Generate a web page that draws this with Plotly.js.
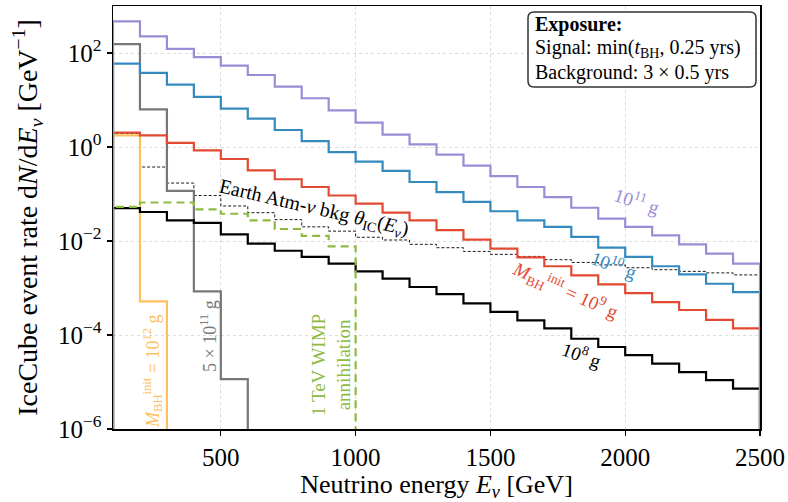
<!DOCTYPE html>
<html>
<head>
<meta charset="utf-8">
<script src="https://cdn.plot.ly/plotly-3.0.1.min.js"></script>
<style>
  html, body { margin: 0; padding: 0; background: #ffffff; }
  #chart { width: 788px; height: 502px; }
</style>
</head>
<body>
<div id="chart"></div>
<script>
// ---- Data ----
const binEdges = [100,200,300,400,500,600,700,800,900,1000,1100,1200,1300,1400,1500,1600,1700,1800,1900,2000,2100,2200,2300,2400,2500];
const xTickVals = [500, 1000, 1500, 2000, 2500];
const xTickText = ["500", "1000", "1500", "2000", "2500"];
const yTickVals = [1e-6, 1e-4, 1e-2, 1, 1e2];
const yTickText = ["10<sup>−6</sup>", "10<sup>−4</sup>", "10<sup>−2</sup>", "10<sup>0</sup>", "10<sup>2</sup>"];

// event rate per 100 GeV bin [GeV^-1]
const rate_1e11g = [472,226,122,82,54,34,19.3,10.9,6.0,3.3,1.84,1.14,0.69,0.40,0.24,0.141,0.086,0.051,0.030,0.020,0.0132,0.0085,0.0054,0.0033];
const rate_1e10g = [59.4,37.6,21.3,11.6,6.56,4.02,2.30,1.34,0.78,0.49,0.31,0.18,0.11,0.068,0.043,0.0275,0.020,0.0122,0.0072,0.0046,0.0029,0.00195,0.00123,0.00082];
const rate_1e9g  = [2.02,1.77,1.22,0.85,0.556,0.319,0.206,0.141,0.093,0.0625,0.040,0.0275,0.017,0.0107,0.0069,0.0045,0.0029,0.00186,0.0012,0.00078,0.0005,0.00034,0.00021,0.000138];
const rate_1e8g  = [0.050,0.0414,0.0275,0.0242,0.0139,0.0088,0.0062,0.0046,0.0033,0.00226,0.00158,0.00105,0.00074,0.00047,0.00031,0.000204,0.000138,0.0000832,0.0000556,0.0000372,0.0000245,0.0000162,0.000011,0.0000072];
const rate_5e11g = [155,6.3,0.116,0.00085,0.0000115];     // zero above 600 GeV
const rate_1e12g = [1.77,0.00052];                         // zero above 300 GeV
const rate_wimp  = [0.053,0.066,0.066,0.047,0.038,0.0275,0.018,0.0129,0.0077]; // zero above 1 TeV
const rate_bkg   = [1.93,0.375,0.171,0.093,0.0556,0.040,0.0285,0.020,0.0162,0.012,0.0105,0.0085,0.0072,0.006,0.0052,0.0047,0.004,0.0035,0.0031,0.0027,0.00245,0.00226,0.0021,0.0019];

// ---- helpers ----
const ZERO = 1e-12; // stands in for an empty bin on the log axis
function stepTrace(vals, color, width, dash) {
  const x = [binEdges[0]], y = [ZERO];
  for (let i = 0; i < vals.length; i++) { x.push(binEdges[i]); y.push(vals[i]); }
  x.push(binEdges[vals.length]); y.push(ZERO);
  return { x: x, y: y, type: 'scatter', mode: 'lines', hoverinfo: 'skip', showlegend: false,
           line: { shape: 'hv', color: color, width: width, dash: dash || 'solid' } };
}

const traces = [
  stepTrace(rate_bkg, '#000000', 0.9, '3px,2px'),
  stepTrace(rate_1e12g, '#FBC15E', 2.2),
  stepTrace(rate_5e11g, '#777777', 2.2),
  stepTrace(rate_1e8g, '#000000', 2.2),
  stepTrace(rate_1e9g, '#E24A33', 2.2),
  stepTrace(rate_1e10g, '#348ABD', 2.2),
  stepTrace(rate_1e11g, '#988ED5', 2.2),
  stepTrace(rate_wimp, '#8EBA42', 2.2, '8px,5px')
];

// plot-area geometry in pixels
const L = 113, R = 760, T = 6, B = 429;
const px = v => (v - L) / (R - L);
const py = v => (B - v) / (B - T);

const FONT = '"Liberation Serif", "Times New Roman", serif';

function ann(text, x, y, color, size, angle, extra) {
  return Object.assign({ text: text, xref: 'paper', yref: 'paper', x: px(x), y: py(y),
    showarrow: false, textangle: angle || 0, font: { family: FONT, size: size, color: color },
    xanchor: 'center', yanchor: 'middle' }, extra || {});
}

const annotations = [
  ann('10<sup>11</sup> g', 637, 200, '#988ED5', 19, 18),
  ann('10<sup>10</sup> g', 614, 264, '#348ABD', 19, 20),
  ann('<i>M</i><sub>BH</sub><sup>init</sup> = 10<sup>9</sup> g', 566, 290, '#E24A33', 19, 24),
  ann('10<sup>8</sup> g', 582, 354, '#000000', 19, 20),
  ann('Earth Atm-<i>ν</i> bkg <i>θ</i><sub>IC</sub>(<i>E</i><sub><i>ν</i></sub>)', 314, 208, '#000000', 20, 13),
  ann('<i>M</i><sub>BH</sub><sup>init</sup> = 10<sup>12</sup> g', 152, 371, '#FBC15E', 18, -90),
  ann('5 × 10<sup>11</sup> g', 208, 336, '#777777', 18, -90),
  ann('1 TeV WIMP<br>annihilation', 331, 365, '#8EBA42', 19, -90),
  ann('<b>Exposure:</b>', 533, 25, '#000000', 20, 0, { xanchor: 'left' }),
  ann('Signal: min(<i>t</i><sub>BH</sub>, 0.25 yrs)', 533, 48, '#000000', 20, 0, { xanchor: 'left' }),
  ann('Background: 3 × 0.5 yrs', 533, 72, '#000000', 20, 0, { xanchor: 'left' })
];

// rounded box behind exposure text
function roundBox(x0, y0, x1, y1, r) {
  const X0 = px(x0), X1 = px(x1), Y0 = py(y0), Y1 = py(y1);
  const rx = r / (R - L), ry = r / (B - T);
  return 'M ' + (X0 + rx) + ',' + Y0 + ' L ' + (X1 - rx) + ',' + Y0 +
    ' Q ' + X1 + ',' + Y0 + ' ' + X1 + ',' + (Y0 - ry) +
    ' L ' + X1 + ',' + (Y1 + ry) + ' Q ' + X1 + ',' + Y1 + ' ' + (X1 - rx) + ',' + Y1 +
    ' L ' + (X0 + rx) + ',' + Y1 + ' Q ' + X0 + ',' + Y1 + ' ' + X0 + ',' + (Y1 + ry) +
    ' L ' + X0 + ',' + (Y0 - ry) + ' Q ' + X0 + ',' + Y0 + ' ' + (X0 + rx) + ',' + Y0 + ' Z';
}

const layout = {
  width: 788, height: 502,
  margin: { l: L, r: 788 - R, t: T, b: 502 - B },
  paper_bgcolor: '#ffffff', plot_bgcolor: '#ffffff',
  font: { family: FONT, color: '#000000' },
  showlegend: false,
  xaxis: {
    range: [100, 2500], tickvals: xTickVals, ticktext: xTickText,
    ticks: 'outside', ticklen: 5, tickwidth: 1.2, tickcolor: '#000000',
    showline: true, linecolor: '#000000', linewidth: 1.5, mirror: true,
    showgrid: true, gridcolor: '#dcdcdc', griddash: 'dot', gridwidth: 1,
    zeroline: false, tickfont: { family: FONT, size: 25 },
    title: { text: 'Neutrino energy <i>E</i><sub><i>ν</i></sub> [GeV]', font: { family: FONT, size: 26 }, standoff: 8 }
  },
  yaxis: {
    type: 'log', range: [-6, 3], tickvals: yTickVals, ticktext: yTickText,
    ticks: 'outside', ticklen: 5, tickwidth: 1.2, tickcolor: '#000000',
    showline: true, linecolor: '#000000', linewidth: 1.5, mirror: true,
    showgrid: true, gridcolor: '#dcdcdc', griddash: 'dot', gridwidth: 1,
    zeroline: false, tickfont: { family: FONT, size: 25 },
    title: { text: 'IceCube event rate d<i>N</i>/d<i>E</i><sub><i>ν</i></sub> [GeV<sup>−1</sup>]', font: { family: FONT, size: 28 }, standoff: 12 }
  },
  shapes: [{ type: 'path', xref: 'paper', yref: 'paper', path: roundBox(528, 12, 756, 87, 6),
             line: { color: '#333333', width: 1.5 }, fillcolor: 'rgba(255,255,255,0.9)', layer: 'above' }],
  annotations: annotations
};

Plotly.newPlot('chart', traces, layout, { staticPlot: true, displayModeBar: false });
</script>
</body>
</html>
